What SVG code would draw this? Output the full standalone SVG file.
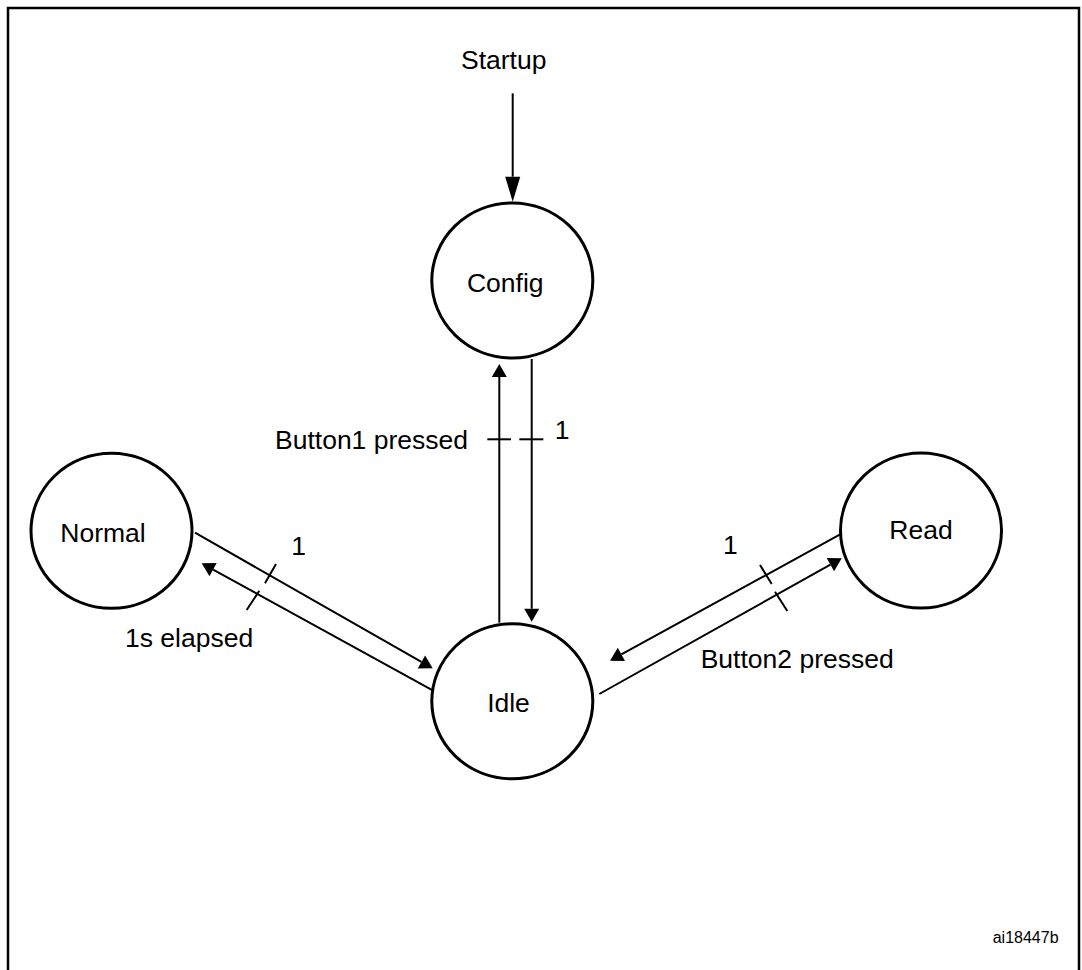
<svg xmlns="http://www.w3.org/2000/svg" width="1082" height="970" viewBox="0 0 1082 970">
<style>
.st{fill:#fff;stroke:#000;stroke-width:3}
.ln{fill:none;stroke:#000;stroke-width:2}
.fr{fill:none;stroke:#000;stroke-width:2.5}
text{font-family:"Liberation Sans",Arial,sans-serif;font-size:26.5px;fill:#000}
.c{text-anchor:middle}
.small{font-size:16px}
</style>
<defs>
<marker id="ah" markerUnits="userSpaceOnUse" markerWidth="14" markerHeight="16" refX="0" refY="7.5" orient="auto" overflow="visible">
<path d="M0,0 L13,7.5 L0,15 z" fill="#000"/>
</marker>
<marker id="ahl" markerUnits="userSpaceOnUse" markerWidth="26" markerHeight="16" refX="0" refY="7.5" orient="auto" overflow="visible">
<path d="M0,0 L25,7.5 L0,15 z" fill="#000"/>
</marker>
</defs>
<rect width="1082" height="970" fill="#fff"/>
<path class="fr" d="M8,972 L8,8 L1079,8 L1079,972"/>

<g id="connectors">
<line class="ln" x1="512.7" y1="93.3" x2="512.7" y2="176.7" marker-end="url(#ahl)"/>
<line class="ln" x1="499.3" y1="622.7" x2="499.3" y2="377" marker-end="url(#ah)"/>
<line class="ln" x1="531.7" y1="359" x2="531.7" y2="608.7" marker-end="url(#ah)"/>
<line class="ln" x1="487.3" y1="439.3" x2="511" y2="439.3"/>
<line class="ln" x1="519.3" y1="439.3" x2="543.3" y2="439.3"/>
<line class="ln" x1="195" y1="532.7" x2="421.4" y2="661.9" marker-end="url(#ah)"/>
<line class="ln" x1="435" y1="691.7" x2="213.1" y2="569.6" marker-end="url(#ah)"/>
<line class="ln" x1="265" y1="583.3" x2="276" y2="564"/>
<line class="ln" x1="246.7" y1="610" x2="259.3" y2="590.7"/>
<line class="ln" x1="843.3" y1="532.7" x2="621.4" y2="654.4" marker-end="url(#ah)"/>
<line class="ln" x1="599.3" y1="694" x2="830.4" y2="564.6" marker-end="url(#ah)"/>
<line class="ln" x1="760" y1="565" x2="771.7" y2="584"/>
<line class="ln" x1="775" y1="591.7" x2="787.3" y2="611"/>
</g>

<g id="labels">
<text class="c" x="503.7" y="69.3">Startup</text>
<text x="275" y="449.3">Button1 pressed</text>
<text class="c" x="562" y="439">1</text>
<text class="c" x="298.5" y="555">1</text>
<text x="125" y="646.7">1s elapsed</text>
<text class="c" x="730.4" y="554.3">1</text>
<text x="700.7" y="668.3">Button2 pressed</text>
<text class="small" x="992.7" y="942.7">ai18447b</text>
</g>

<g id="node-config">
<ellipse class="st" cx="512.3" cy="280.5" rx="80.5" ry="77.5"/>
<text class="c" x="505.3" y="291.7">Config</text>
</g>
<g id="node-normal">
<ellipse class="st" cx="111.5" cy="530.8" rx="80.5" ry="77.5"/>
<text class="c" x="103" y="541.7">Normal</text>
</g>
<g id="node-idle">
<ellipse class="st" cx="512.3" cy="701.3" rx="80.5" ry="77.5"/>
<text class="c" x="508.5" y="712">Idle</text>
</g>
<g id="node-read">
<ellipse class="st" cx="921" cy="530.5" rx="80.5" ry="77.5"/>
<text class="c" x="921" y="539.3">Read</text>
</g>
</svg>
